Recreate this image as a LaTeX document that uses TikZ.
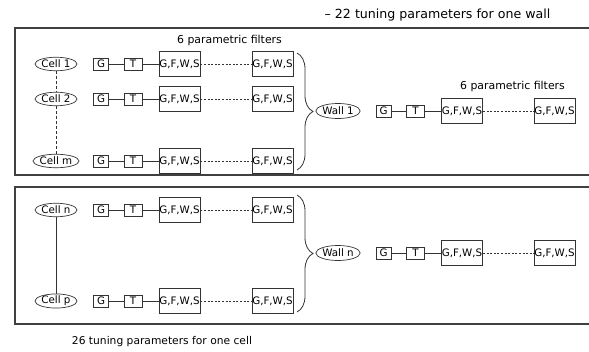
\documentclass[tikz,border=0pt]{standalone}
\usepackage{fontspec}
\setmainfont{DejaVu Sans}
\usetikzlibrary{shapes.geometric,decorations.pathreplacing}
\begin{document}
\begin{tikzpicture}[x=1pt,y=-1pt,
  line/.style={draw=black!80, line width=0.8pt},
  frame/.style={draw=black!75, line width=1.2pt},
  cell/.style={ellipse, draw=black!80, line width=0.7pt, minimum width=42pt, minimum height=13.5pt, inner sep=0pt, font=\fontsize{10.3}{11}\selectfont},
  wall/.style={cell, minimum width=41pt, minimum height=15pt},
  gbox/.style={rectangle, draw=black!80, line width=0.7pt, minimum width=15pt, minimum height=12pt, inner sep=0pt, font=\fontsize{10.3}{11}\selectfont},
  tbox/.style={gbox, minimum width=18pt},
  fbox/.style={rectangle, draw=black!80, line width=0.8pt, minimum width=41pt, minimum height=24.5pt, inner sep=0pt, font=\fontsize{10.3}{11}\selectfont},
  label/.style={font=\fontsize{10.9}{12}\selectfont, inner sep=0pt},
  dots/.style={draw=black!80, line width=0.6pt, dash pattern=on 2pt off 1.6pt},
  celldash/.style={draw=black!80, line width=0.8pt, dash pattern=on 3pt off 2pt},
  bracestyle/.style={draw=black!80, line width=0.8pt, decorate, decoration={brace, amplitude=16pt}}
]
\useasboundingbox (0,0) rectangle (589,351);
% frames
\draw[frame] (590,28) -- (15,28) -- (15,175) -- (590,175);
\draw[frame] (590,187) -- (15,187) -- (15,324) -- (590,324);
% labels
\node[label, font=\fontsize{12.6}{14}\selectfont] (t1) at (437.5,15) {– 22 tuning parameters for one wall};
\node[label] (t2) at (229.5,40) {6 parametric filters};
\node[label] (t3) at (512.5,86) {6 parametric filters};
\node[label, font=\fontsize{10.7}{12}\selectfont] (t4) at (162,342) {26 tuning parameters for one cell};
% cells
\node[cell] (c1) at (56,64) {Cell 1};
\node[cell] (c2) at (56,99) {Cell 2};
\node[cell] (cm) at (56,161) {Cell m};
\node[cell] (cn) at (56,210) {Cell n};
\node[cell] (cp) at (56,301) {Cell p};
\draw[celldash] (c1) -- (c2);
\draw[celldash] (c2) -- (cm);
\draw[line] (cn) -- (cp);
% rows
\foreach \n/\y in {a/64,b/99,c/161,d/210,e/301}{
  \node[gbox] (g\n) at (101,\y) {G};
  \node[tbox] (t\n) at (133,\y) {T};
  \node[fbox] (f\n) at (179.5,\y) {G,F,W,S};
  \node[fbox] (h\n) at (272.5,\y) {G,F,W,S};
  \draw[line] (g\n) -- (t\n);
  \draw[line] (t\n) -- (f\n);
  \draw[dots] (f\n) -- (h\n);
}
% walls
\foreach \n/\y/\lab in {w/111/Wall 1,v/253/Wall n}{
  \node[wall] (W\n) at (338,\y) {\lab};
  \node[gbox] (g\n) at (383.5,\y) {G};
  \node[tbox] (t\n) at (415.5,\y) {T};
  \node[fbox] (f\n) at (462,\y) {G,F,W,S};
  \node[fbox] (h\n) at (554.5,\y) {G,F,W,S};
  \draw[line] (g\n) -- (t\n);
  \draw[line] (t\n) -- (f\n);
  \draw[dots] (f\n) -- (h\n);
}
% braces
\draw[bracestyle] (297,53) -- (297,170);
\draw[bracestyle] (297,195) -- (297,312);
\end{tikzpicture}
\end{document}
